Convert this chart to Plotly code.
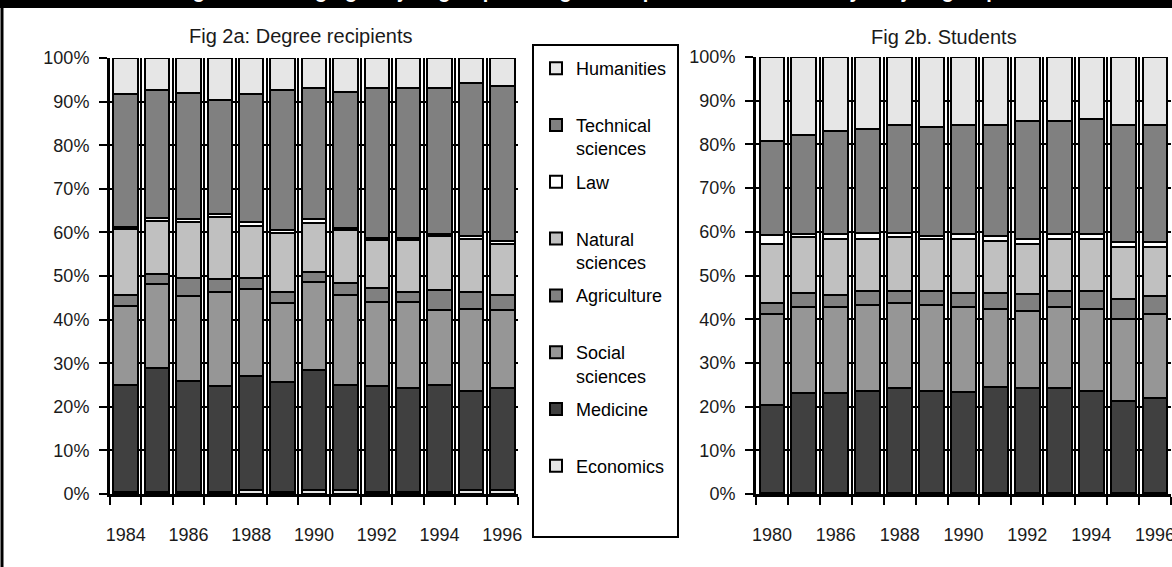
import plotly.graph_objects as go

W, H = 1172, 567

# ---------------- data (percent shares) ----------------
years_deg = ["1984", "1985", "1986", "1987", "1988", "1989", "1990",
             "1991", "1992", "1993", "1994", "1995", "1996"]
years_stu = ["1980", "1985", "1986", "1987", "1988", "1989", "1990",
             "1991", "1992", "1993", "1994", "1995", "1996"]

# stacking order, bottom -> top
subjects = ["Economics", "Medicine", "Social sciences", "Agriculture",
            "Natural sciences", "Law", "Technical sciences", "Humanities"]
legend_labels = ["Economics<br> ", "Medicine<br> ", "Social<br>sciences", "Agriculture<br> ",
                 "Natural<br>sciences", "Law<br> ", "Technical<br>sciences", "Humanities<br> "]
colors = ["#e6e6e6", "#404040", "#969696", "#808080",
          "#c0c0c0", "#ffffff", "#808080", "#e6e6e6"]

# Fig 2a: Degree recipients
deg_economics = [0.5, 0.5, 0.5, 0.5, 1.0, 0.5, 1.0, 1.0, 0.5, 0.5, 0.5, 1.0, 1.0]
deg_medicine = [24.6, 28.4, 25.5, 24.2, 26.0, 25.1, 27.5, 24.1, 24.2, 23.8, 24.6, 22.7, 23.3]
deg_social = [18.0, 19.2, 19.5, 21.7, 20.1, 18.1, 20.1, 20.6, 19.3, 19.7, 17.0, 18.8, 17.8]
deg_agriculture = [2.6, 2.4, 4.1, 2.8, 2.5, 2.6, 2.4, 2.6, 3.3, 2.3, 4.6, 3.8, 3.6]
deg_natural = [15.0, 12.1, 12.8, 14.4, 11.8, 13.6, 11.2, 12.2, 10.9, 11.9, 12.4, 12.3, 11.7]
deg_law = [0.6, 0.7, 0.6, 0.7, 1.1, 0.6, 0.8, 0.6, 0.6, 0.6, 0.6, 0.6, 0.6]
deg_technical = [30.4, 29.4, 28.9, 26.0, 29.2, 32.1, 30.1, 31.2, 34.3, 34.3, 33.4, 35.0, 35.6]
deg_humanities = [8.3, 7.3, 8.1, 9.7, 8.3, 7.4, 6.9, 7.7, 6.9, 6.9, 6.9, 5.8, 6.4]

# Fig 2b: Students
stu_economics = [0.3, 0.3, 0.3, 0.3, 0.3, 0.3, 0.3, 0.3, 0.3, 0.3, 0.3, 0.3, 0.3]
stu_medicine = [20.1, 22.9, 22.9, 23.3, 23.9, 23.3, 23.1, 24.2, 23.9, 23.9, 23.3, 21.0, 21.6]
stu_social = [20.7, 19.6, 19.6, 19.6, 19.5, 19.6, 19.4, 17.8, 17.6, 18.6, 18.7, 18.7, 19.2]
stu_agriculture = [2.6, 3.1, 2.7, 3.3, 2.8, 3.3, 3.2, 3.7, 3.9, 3.7, 4.2, 4.7, 4.2]
stu_natural = [13.6, 12.8, 12.8, 11.8, 12.3, 11.8, 12.3, 11.9, 11.6, 11.8, 11.8, 11.9, 11.3]
stu_law = [1.9, 0.9, 1.1, 1.5, 1.0, 0.7, 1.1, 1.2, 1.0, 1.1, 1.1, 1.1, 1.1]
stu_technical = [21.6, 22.5, 23.7, 23.7, 24.6, 25.0, 25.0, 25.3, 27.0, 25.9, 26.4, 26.7, 26.7]
stu_humanities = [19.2, 17.9, 16.9, 16.5, 15.6, 16.0, 15.6, 15.6, 14.7, 14.7, 14.2, 15.6, 15.6]

deg_series = [deg_economics, deg_medicine, deg_social, deg_agriculture,
              deg_natural, deg_law, deg_technical, deg_humanities]
stu_series = [stu_economics, stu_medicine, stu_social, stu_agriculture,
              stu_natural, stu_law, stu_technical, stu_humanities]

title_a = "Fig 2a: Degree recipients"
title_b = "Fig 2b. Students"
title_top = "Figure 2: Changing subject groups of degree recipients and students by subject group"

FONT = "Liberation Sans, Arial, sans-serif"
TXT = "#1a1a1a"
N = len(subjects)

fig = go.Figure()
for i, name in enumerate(subjects):
    fig.add_trace(go.Bar(
        x=years_deg, y=deg_series[i], name=legend_labels[i], legendgroup=name,
        legendrank=N - i,
        marker=dict(color=colors[i], line=dict(color="black", width=2)),
        xaxis="x", yaxis="y", showlegend=True))
for i, name in enumerate(subjects):
    fig.add_trace(go.Bar(
        x=years_stu, y=stu_series[i], name=legend_labels[i], legendgroup=name,
        legendrank=N - i,
        marker=dict(color=colors[i], line=dict(color="black", width=2)),
        xaxis="x2", yaxis="y2", showlegend=False))


def px_x(v):
    return v / W


def px_y(v):
    return 1 - v / H


def xaxis_cfg(dom, cats, anchor):
    return dict(
        domain=dom, anchor=anchor, type="category", tickson="boundaries",
        tickmode="array", tickvals=cats,
        ticktext=[c if k % 2 == 0 else "" for k, c in enumerate(cats)],
        tickangle=0, automargin=False,
        ticks="outside", ticklen=8, tickwidth=2, tickcolor="black",
        showgrid=True, gridcolor="black", gridwidth=2,
        showline=True, linecolor="black", linewidth=3,
        tickfont=dict(family=FONT, size=18, color=TXT),
        ticklabelstandoff=22, fixedrange=True)


def yaxis_cfg(dom, anchor):
    return dict(
        domain=dom, anchor=anchor, range=[0, 100], dtick=10, ticksuffix="%",
        automargin=False,
        ticks="outside", ticklen=8, tickwidth=2, tickcolor="black",
        showgrid=True, gridcolor="black", gridwidth=2, zeroline=False,
        showline=True, linecolor="black", linewidth=3,
        tickfont=dict(family=FONT, size=18, color=TXT),
        ticklabelstandoff=6, fixedrange=True)


fig.update_layout(
    width=W, height=H, autosize=False,
    margin=dict(l=0, r=0, t=0, b=0, autoexpand=False),
    paper_bgcolor="white", plot_bgcolor="white",
    barmode="stack", bargap=0.22,
    xaxis=xaxis_cfg([px_x(110), px_x(518)], years_deg, "y"),
    yaxis=yaxis_cfg([px_y(494), px_y(58)], "x"),
    xaxis2=xaxis_cfg([px_x(756), px_x(1171)], years_stu, "y2"),
    yaxis2=yaxis_cfg([px_y(494), px_y(57)], "x2"),
    font=dict(family=FONT, color=TXT),
    legend=dict(
        x=px_x(536), y=px_y(50), xanchor="left", yanchor="top",
        traceorder="grouped", valign="top", tracegroupgap=7,
        bgcolor="rgba(0,0,0,0)", borderwidth=0,
        font=dict(family=FONT, size=18, color="black")),
    shapes=[
        dict(type="rect", xref="paper", yref="paper",
             x0=0, x1=1, y0=px_y(8), y1=1,
             fillcolor="black", line=dict(width=0), layer="above"),
        dict(type="line", xref="paper", yref="paper",
             x0=px_x(2), x1=px_x(2), y0=0, y1=1,
             line=dict(color="black", width=3)),
        dict(type="rect", xref="paper", yref="paper",
             x0=px_x(533), x1=px_x(678), y0=px_y(537), y1=px_y(45),
             line=dict(color="black", width=2), fillcolor="rgba(0,0,0,0)"),
    ],
    annotations=[
        dict(text=title_a, xref="paper", yref="paper",
             x=px_x(300), y=px_y(36), xanchor="center", yanchor="middle",
             showarrow=False, font=dict(family=FONT, size=20, color=TXT)),
        dict(text=title_b, xref="paper", yref="paper",
             x=px_x(944), y=px_y(37), xanchor="center", yanchor="middle",
             showarrow=False, font=dict(family=FONT, size=20, color=TXT)),
        dict(text="<b>" + title_top + "</b>", xref="paper", yref="paper",
             x=px_x(586), y=px_y(4), xanchor="center", yanchor="bottom",
             showarrow=False, font=dict(family=FONT, size=20, color="white")),
    ],
)

# the page's default body margin would offset the figure by 8px
fig.write_html("out.html", config={"displayModeBar": False},
               post_script="document.body.style.margin='0px';")
